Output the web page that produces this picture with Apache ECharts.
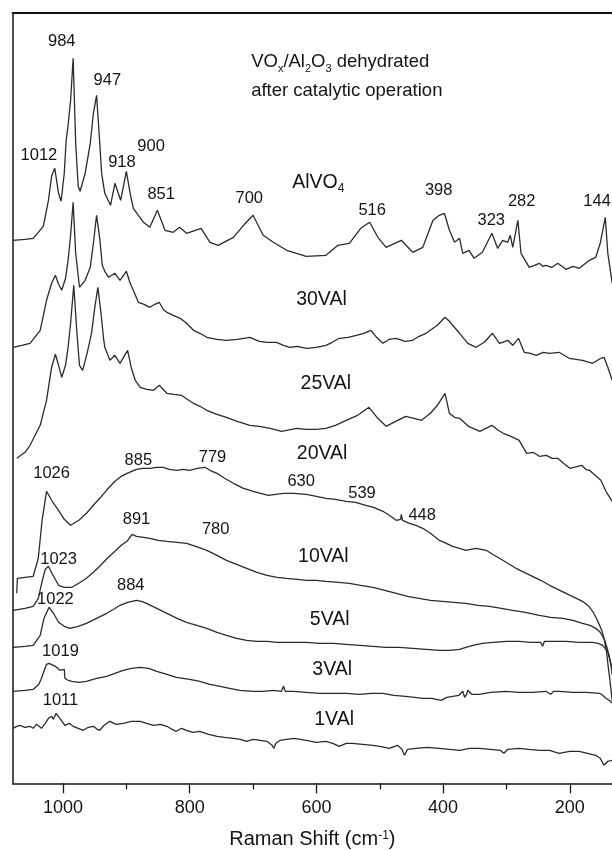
<!DOCTYPE html>
<html>
<head>
<meta charset="utf-8">
<script src="https://cdn.jsdelivr.net/npm/echarts@6/dist/echarts.min.js"></script>
<style>
html,body{margin:0;padding:0;background:#fff;}
#c{width:612px;height:850px;}
</style>
</head>
<body>
<div id="c"></div>
<script>
// ---- x-axis (Raman shift, cm-1) ----
const xMin = 133.4, xMax = 1079.4;
const majorTicks = [200, 400, 600, 800, 1000];
const minorTicks = [300, 500, 700, 900];

// ---- spectra: [Raman shift, intensity (a.u., offset included)] ----
const alvo4 = [[1079,543],[1060,544],[1047,545],[1031,557],[1023,583],[1018,607],[1013,615],[1007,590],[1003,582],[998,610],[995,643],[992,658],[988,683],[984,725],[980,640],[976,597],[973,592],[965,610],[957,640],[952,670],[947,688],[943,650],[939,610],[934,590],[925,578],[918,600],[909,583],[900,612],[894,590],[889,575],[873,561],[863,556],[851,573],[839,553],[826,551],[816,556],[805,550],[782,555],[768,541],[755,538],[731,546],[715,558],[700,568],[684,548],[668,541],[647,533],[616,527],[585,528],[566,538],[548,540],[530,555],[516,561],[503,546],[490,536],[466,543],[448,531],[432,536],[416,563],[406,568],[398,570],[390,553],[382,541],[374,545],[369,530],[359,533],[351,525],[338,531],[323,550],[314,535],[306,543],[298,541],[294,548],[290,536],[282,563],[277,530],[264,516],[248,520],[243,517],[238,518],[228,516],[219,520],[206,514],[195,517],[185,515],[169,523],[159,526],[152,540],[144,566],[140,530],[133,500]];
const v30 = [[1079,436],[1065,438],[1052,440],[1036,453],[1026,483],[1018,500],[1012,508],[1007,499],[1002,493],[996,505],[992,523],[988,548],[984,581],[980,530],[974,496],[965,503],[957,516],[952,540],[947,568],[942,545],[938,518],[934,512],[928,506],[918,510],[910,503],[900,512],[894,500],[889,493],[881,481],[872,479],[863,476],[855,479],[848,481],[842,474],[836,471],[826,468],[815,465],[805,460],[794,453],[784,450],[773,446],[757,444],[742,443],[725,444],[705,446],[690,442],[678,441],[663,441],[652,438],[642,436],[630,437],[616,435],[600,436],[585,438],[575,441],[564,445],[550,446],[537,448],[525,450],[514,453],[505,446],[495,440],[485,444],[474,445],[460,442],[448,443],[438,447],[427,450],[418,454],[409,458],[397,466],[390,462],[385,458],[374,450],[361,440],[348,436],[335,441],[322,450],[311,440],[298,443],[290,438],[281,445],[272,431],[262,430],[253,428],[242,431],[232,430],[217,431],[209,428],[201,425],[190,424],[180,423],[164,420],[151,425],[146,426],[140,416],[133,403]];
const v25 = [[1073,325],[1060,331],[1052,338],[1036,358],[1026,383],[1018,416],[1012,429],[1007,418],[1002,406],[996,418],[992,436],[988,460],[983,498],[978,450],[974,418],[969,413],[962,430],[955,450],[950,475],[945,496],[940,470],[936,445],[934,436],[926,423],[918,428],[910,420],[898,433],[892,415],[886,403],[878,396],[868,394],[857,393],[848,398],[836,390],[825,389],[813,388],[804,384],[794,380],[784,377],[773,373],[757,369],[742,366],[725,362],[705,358],[690,357],[673,355],[655,352],[631,355],[616,354],[600,354],[585,355],[570,358],[553,363],[535,368],[517,376],[503,365],[490,357],[475,362],[459,367],[446,365],[434,363],[420,370],[409,378],[397,390],[390,370],[382,366],[374,365],[360,357],[342,352],[323,358],[313,353],[305,350],[293,347],[280,343],[268,330],[258,331],[248,327],[237,328],[228,325],[219,325],[210,320],[200,315],[181,318],[175,314],[169,313],[160,308],[151,303],[143,292],[133,282]];
const v20 = [[1073,190],[1072,205],[1060,206],[1047,207],[1039,225],[1033,263],[1026,292],[1017,282],[1007,273],[998,264],[988,258],[975,263],[963,270],[952,278],[942,285],[930,294],[918,302],[908,307],[899,310],[884,314],[874,315],[863,315],[852,316],[842,316],[832,314],[821,313],[810,314],[800,313],[788,315],[776,316],[768,313],[757,310],[745,305],[731,300],[715,295],[700,292],[688,290],[676,288],[664,289],[652,290],[636,290],[616,289],[600,287],[585,285],[570,284],[553,282],[538,281],[522,278],[510,276],[495,272],[485,268],[474,263],[467,264],[466,269],[464,263],[453,260],[443,258],[432,255],[420,250],[406,243],[395,240],[385,237],[374,235],[364,233],[356,234],[348,235],[340,234],[332,233],[322,229],[311,225],[298,220],[285,215],[272,211],[259,207],[246,203],[232,198],[219,194],[206,190],[193,186],[180,182],[170,177],[164,172],[158,165],[153,158],[149,152],[146,145],[142,132],[140,120],[137,105],[133,82]];
const v10 = [[1079,173],[1060,175],[1047,177],[1039,185],[1033,202],[1028,214],[1023,217],[1015,207],[1007,198],[998,196],[986,196],[975,200],[963,205],[952,211],[942,217],[930,225],[918,232],[908,238],[899,242],[891,249],[884,247],[873,246],[863,245],[850,243],[836,242],[820,241],[805,240],[800,239],[786,236],[773,233],[757,228],[742,223],[726,219],[710,215],[694,211],[678,208],[662,206],[647,205],[630,204],[616,203],[600,203],[585,202],[565,201],[548,200],[530,198],[511,196],[492,193],[474,190],[456,187],[438,185],[420,183],[401,182],[383,181],[364,180],[345,178],[327,177],[308,175],[290,173],[270,171],[248,168],[230,166],[211,165],[195,163],[180,160],[168,158],[159,155],[152,151],[146,145],[141,135],[138,128],[135,118],[133,108]];
const v5 = [[1079,136],[1060,137],[1047,138],[1036,148],[1030,165],[1022,176],[1015,170],[1007,161],[998,157],[989,155],[976,157],[963,160],[947,165],[931,170],[920,174],[910,178],[898,181],[884,183],[876,182],[868,180],[852,175],[836,170],[820,165],[805,161],[789,158],[773,155],[757,151],[742,148],[726,145],[710,143],[694,142],[678,142],[662,141],[647,141],[630,141],[616,141],[595,140],[574,140],[553,139],[532,138],[511,137],[490,136],[469,136],[448,135],[427,134],[406,133],[390,133],[374,134],[364,136],[353,138],[338,140],[322,141],[300,142],[280,142],[262,141],[246,141],[243,137],[240,142],[225,142],[206,142],[185,141],[164,141],[155,140],[148,138],[143,134],[140,131],[137,124],[133,115]];
const v3 = [[1079,92],[1060,93],[1047,94],[1038,99],[1034,105],[1030,112],[1026,119],[1022,120],[1019,120],[1012,117],[1005,113],[998,114],[997,105],[992,103],[986,102],[975,101],[963,102],[947,105],[931,107],[918,110],[905,113],[892,115],[878,116],[865,115],[852,112],[836,109],[821,106],[800,104],[784,102],[768,99],[752,97],[737,95],[721,93],[700,92],[684,92],[668,93],[655,92],[652,97],[649,92],[636,92],[616,91],[595,90],[574,90],[553,90],[532,89],[512,90],[495,90],[478,88],[459,87],[445,86],[432,85],[418,85],[403,83],[394,86],[385,87],[375,88],[369,92],[366,86],[365,86],[363,89],[361,93],[355,89],[343,89],[325,91],[301,92],[280,91],[259,91],[238,92],[230,89],[226,92],[217,92],[195,91],[174,91],[153,90],[148,88],[143,85],[138,83],[133,80]];
const v1 = [[1079,55],[1073,57],[1068,58],[1060,56],[1052,57],[1047,55],[1042,59],[1034,55],[1028,60],[1023,65],[1018,67],[1015,64],[1011,70],[1005,65],[997,58],[990,60],[984,57],[976,55],[968,53],[960,56],[952,57],[946,54],[942,53],[935,58],[926,62],[916,59],[905,60],[892,62],[878,62],[868,60],[857,58],[846,59],[836,57],[828,54],[821,52],[813,55],[805,53],[795,51],[784,52],[770,49],[757,47],[745,46],[731,45],[720,44],[710,42],[700,44],[689,43],[678,42],[670,38],[667,35],[664,40],[657,43],[647,44],[636,45],[625,44],[616,43],[600,41],[585,42],[574,40],[564,37],[553,40],[543,40],[527,39],[511,38],[500,37],[485,35],[472,38],[465,34],[461,28],[456,34],[443,35],[425,36],[406,35],[390,34],[374,33],[358,35],[343,35],[325,34],[310,33],[304,30],[298,34],[280,35],[265,34],[248,33],[232,33],[217,30],[200,32],[185,32],[172,30],[159,28],[152,25],[146,18],[140,22],[133,23]];

const series = [
  {name: 'AlVO4', data: alvo4},
  {name: '30VAl', data: v30},
  {name: '25VAl', data: v25},
  {name: '20VAl', data: v20},
  {name: '10VAl', data: v10},
  {name: '5VAl', data: v5},
  {name: '3VAl', data: v3},
  {name: '1VAl', data: v1}
];

// ---- annotation texts, anchored in data coordinates [text, shift, intensity] ----
const peakLabels = [
  ['984', 1002, 742], ['947', 930, 703], ['1012', 1038, 628], ['900', 861, 637],
  ['918', 907, 621], ['851', 845, 589], ['700', 706, 585], ['516', 512, 573],
  ['398', 407, 593], ['323', 324, 563], ['282', 276, 582], ['144', 157, 582],
  ['885', 881, 323], ['779', 764, 326], ['1026', 1018, 310], ['630', 624, 302],
  ['539', 528, 290], ['448', 433, 268], ['891', 884, 264], ['780', 759, 254],
  ['1023', 1007, 224], ['884', 893, 198], ['1022', 1012, 184], ['1019', 1004, 132],
  ['1011', 1004, 83]
];
const sampleLabels = [
  ['{m|AlVO}{s|4}', 597, 601], ['30VAl', 592, 484], ['25VAl', 585, 400], ['20VAl', 591, 330],
  ['10VAl', 589, 227], ['5VAl', 579, 164], ['3VAl', 575, 114], ['1VAl', 572, 64]
];
const titleLines = [
  ['{m|VO}{s|x}{m|/Al}{s|2}{m|O}{s|3}{m| dehydrated}', 703, 721],
  ['{m|after catalytic operation}', 703, 692]
];

const FONT = '"Liberation Sans", Arial, Helvetica, sans-serif';
const INK = '#141414';

const chart = echarts.init(document.getElementById('c'), null, {renderer: 'canvas'});

function labelSeries(list, size, align) {
  return {
    type: 'scatter',
    symbolSize: 0,
    silent: true,
    clip: false,
    z: 5,
    itemStyle: {color: INK, opacity: 1},
    data: list.map(function (d) { return {value: [d[1], d[2]], name: d[0]}; }),
    label: {
      show: true,
      position: 'inside',
      align: align,
      verticalAlign: 'middle',
      formatter: function (p) { return p.name; },
      color: INK,
      opacity: 1,
      textBorderWidth: 0,
      fontFamily: FONT,
      fontSize: size,
      rich: {
        m: {fontSize: size, fontFamily: FONT, color: INK, lineHeight: size + 6, verticalAlign: 'middle', textBorderWidth: 0},
        s: {fontSize: Math.round(size * 0.6), fontFamily: FONT, color: INK, lineHeight: Math.round(size * 0.6), verticalAlign: 'bottom', textBorderWidth: 0}
      }
    }
  };
}

const lineSeries = series.map(function (s) {
  return {
    name: s.name,
    type: 'line',
    data: s.data,
    showSymbol: false,
    symbol: 'none',
    smooth: false,
    clip: true,
    lineStyle: {color: '#2b2b2b', width: 1.3},
    emphasis: {disabled: true}
  };
});

chart.setOption({
  animation: false,
  backgroundColor: '#fff',
  grid: {left: 12.7, right: 0, top: 13, bottom: 66.7, containLabel: false, outerBoundsMode: 'none'},
  xAxis: [
    {
      type: 'value', inverse: true, min: xMin, max: xMax, position: 'bottom',
      splitLine: {show: false},
      axisLine: {show: true, lineStyle: {color: INK, width: 1.5}},
      axisTick: {show: true, inside: false, length: 10, customValues: majorTicks, lineStyle: {color: INK, width: 1.3}},
      axisLabel: {show: true, customValues: majorTicks, margin: 16, color: INK, fontFamily: FONT, fontSize: 18,
        formatter: function (v) { return String(Math.round(v)); }},
      name: 'Raman Shift (cm{sup|-1})',
      nameLocation: 'middle',
      nameGap: 46,
      nameTextStyle: {
        color: INK, fontFamily: FONT, fontSize: 20,
        rich: {
          sup: {fontSize: 12, fontFamily: FONT, color: INK, verticalAlign: 'top', lineHeight: 12}
        }
      }
    },
    {
      type: 'value', inverse: true, min: xMin, max: xMax, position: 'bottom', gridIndex: 0,
      splitLine: {show: false},
      axisLine: {show: false},
      axisTick: {show: true, inside: false, length: 6, customValues: minorTicks, lineStyle: {color: INK, width: 1.3}},
      axisLabel: {show: false}
    },
    {
      type: 'value', inverse: true, min: xMin, max: xMax, position: 'top', gridIndex: 0,
      splitLine: {show: false},
      axisLine: {show: true, lineStyle: {color: '#111', width: 2}},
      axisTick: {show: false},
      axisLabel: {show: false}
    }
  ],
  yAxis: {
    type: 'value', min: 0, max: 770.3,
    splitLine: {show: false},
    axisLine: {show: true, lineStyle: {color: INK, width: 1.5}},
    axisTick: {show: false},
    axisLabel: {show: false}
  },
  series: lineSeries.concat([
    labelSeries(peakLabels, 16.5, 'center'),
    labelSeries(sampleLabels, 19.5, 'center'),
    labelSeries(titleLines, 18.5, 'left')
  ])
});
</script>
</body>
</html>
